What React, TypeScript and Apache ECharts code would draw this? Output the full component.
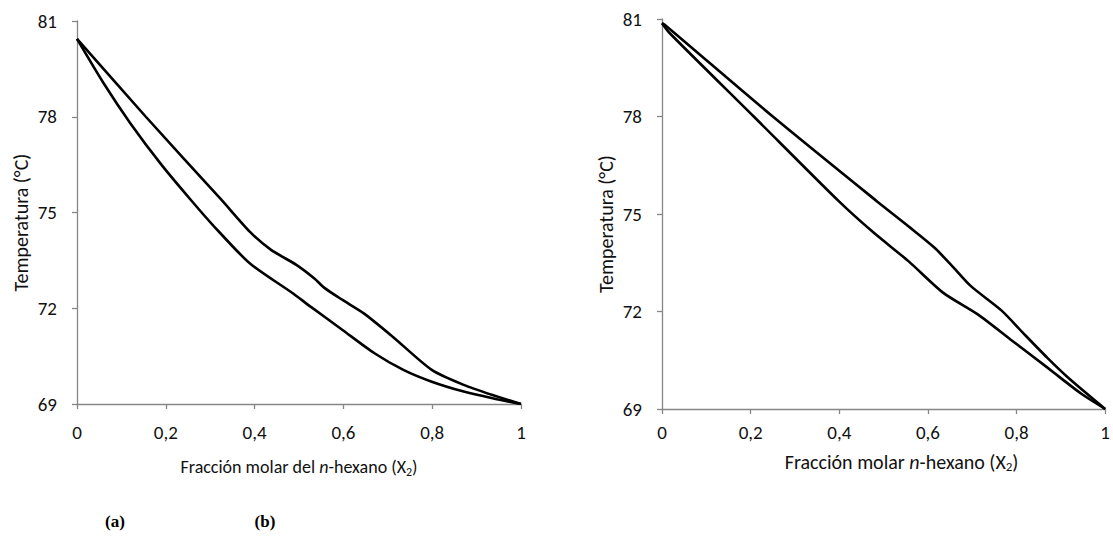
import React, { useEffect, useRef } from "react";
import * as echarts from "echarts";

// Tick values
const xTicks = [0, 0.2, 0.4, 0.6, 0.8, 1];
const yTicks = [69, 72, 75, 78, 81];

// (a) liquid (lower) curve
const aLiquidX = [0, 0.06, 0.12, 0.19, 0.256, 0.309, 0.389, 0.486, 0.526, 0.598, 0.67, 0.735, 0.799, 0.871, 0.936, 1];
const aLiquidT = [80.44, 79.05, 77.8, 76.5, 75.4, 74.56, 73.41, 72.47, 72.05, 71.32, 70.59, 70.07, 69.7, 69.39, 69.18, 69];
// (a) vapour (upper) curve
const aVaporX = [0, 0.155, 0.325, 0.389, 0.437, 0.494, 0.534, 0.558, 0.598, 0.646, 0.711, 0.799, 0.871, 0.936, 1];
const aVaporT = [80.44, 78.0, 75.4, 74.4, 73.83, 73.36, 72.94, 72.63, 72.26, 71.84, 71.11, 70.07, 69.6, 69.28, 69];

// (b) liquid (lower) curve
const bLiquidX = [0, 0.017, 0.207, 0.4, 0.478, 0.556, 0.634, 0.7125, 0.79, 0.869, 0.9, 0.947, 1];
const bLiquidT = [80.87, 80.57, 78.0, 75.38, 74.42, 73.55, 72.58, 71.91, 71.1, 70.28, 69.95, 69.46, 69];
// (b) vapour (upper) curve
const bVaporX = [0, 0.01, 0.25, 0.486, 0.556, 0.615, 0.658, 0.697, 0.767, 0.814, 0.869, 0.916, 1];
const bVaporT = [80.87, 80.78, 78.0, 75.38, 74.62, 73.96, 73.35, 72.78, 72.02, 71.35, 70.58, 69.97, 69];

const yName = "Temperatura (°C)";
const xNameA = "Fracción molar del {i|n}-hexano (X{sub|2})";
const xNameB = "Fracción molar {i|n}-hexano (X{sub|2})";
const panelLabels = ["(a)", "(b)"];

const FONT = "Carlito, 'Open Sans', 'Noto Sans', sans-serif";
const AXIS_GREY = "#868686";
const TEXT = "#111";

const pairs = (xs: number[], ys: number[]) => xs.map((x, i) => [x, ys[i]]);

const fmtX = (v: number) => String(Number(v.toFixed(1))).replace(".", ",");

function xAxis(gridIndex: number, name: string, nameSize: number, nameGap: number, labelMargin: number, shift: number) {
  return {
    type: "value",
    gridIndex,
    min: xTicks[0],
    max: xTicks[xTicks.length - 1],
    interval: 0.2,
    name,
    nameLocation: "middle",
    nameGap,
    nameTextStyle: {
      fontSize: nameSize,
      fontFamily: FONT,
      color: TEXT,
      lineHeight: 22,
      padding: [0, 0, 0, shift],
      rich: {
        i: { fontSize: nameSize, fontFamily: FONT, fontStyle: "italic", color: TEXT, lineHeight: 22 },
        sub: { fontSize: Math.round(nameSize * 0.65), fontFamily: FONT, color: TEXT, lineHeight: 12, verticalAlign: "bottom" },
      },
    },
    axisLine: { show: true, lineStyle: { color: AXIS_GREY, width: 1.3 } },
    axisTick: { show: true, length: 5, inside: false, lineStyle: { color: AXIS_GREY, width: 1.3 } },
    splitLine: { show: false },
    axisLabel: { fontSize: 19, fontFamily: FONT, color: TEXT, margin: labelMargin, formatter: fmtX },
  };
}

function yAxis(gridIndex: number) {
  return {
    type: "value",
    gridIndex,
    min: yTicks[0],
    max: yTicks[yTicks.length - 1],
    interval: 3,
    name: yName,
    nameLocation: "middle",
    nameGap: 46,
    nameTextStyle: { fontSize: 20, fontFamily: FONT, color: TEXT, padding: [0, 20, 0, 0] },
    axisLine: { show: true, lineStyle: { color: AXIS_GREY, width: 1.3 } },
    axisTick: { show: true, length: 5, inside: false, lineStyle: { color: AXIS_GREY, width: 1.3 } },
    splitLine: { show: false },
    axisLabel: { fontSize: 19, fontFamily: FONT, color: TEXT, margin: 20 },
  };
}

function curve(xi: number, data: number[][]) {
  return {
    type: "line",
    xAxisIndex: xi,
    yAxisIndex: xi,
    data,
    smooth: 0.25,
    symbol: "none",
    lineStyle: { color: "#000", width: 2.6 },
  };
}

const panelText = (text: string, x: number) => ({
  type: "text",
  x,
  y: 521,
  style: {
    text,
    fontSize: 17,
    fontWeight: "bold",
    fontFamily: "'Liberation Serif', 'DejaVu Serif', serif",
    fill: "#000",
    textAlign: "center",
    textVerticalAlign: "middle",
  },
});

export default function App() {
  const ref = useRef<HTMLDivElement>(null);
  useEffect(() => {
    const chart = echarts.init(ref.current!, null, { renderer: "svg" });
    chart.setOption({
      animation: false,
      backgroundColor: "#fff",
      grid: [
        { left: 77, top: 21, width: 444, height: 383 },
        { left: 662, top: 19, width: 451, height: 390 },
      ],
      xAxis: [xAxis(0, xNameA, 18, 52, 19, 0), xAxis(1, xNameB, 20, 42, 14, 36)],
      yAxis: [yAxis(0), yAxis(1)],
      series: [
        curve(0, pairs(aLiquidX, aLiquidT)),
        curve(0, pairs(aVaporX, aVaporT)),
        curve(1, pairs(bLiquidX, bLiquidT)),
        curve(1, pairs(bVaporX, bVaporT)),
      ],
      graphic: [panelText(panelLabels[0], 115), panelText(panelLabels[1], 265)],
    });
    return () => chart.dispose();
  }, []);
  return (
    <div
      ref={ref}
      style={{ position: "fixed", left: 0, top: 0, width: 1113, height: 540, background: "#fff" }}
    />
  );
}
